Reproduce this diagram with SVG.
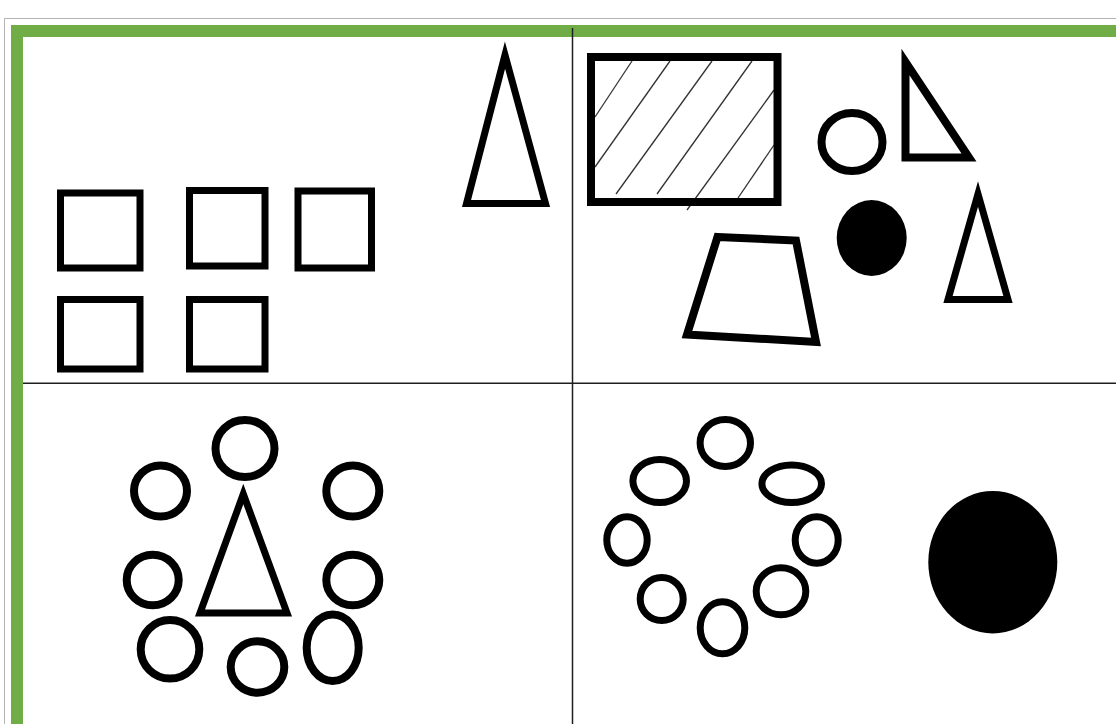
<svg xmlns="http://www.w3.org/2000/svg" width="1116" height="724" viewBox="0 0 1116 724">
<style>
.s{fill:none;stroke:#000;stroke-width:7;stroke-miterlimit:10}
.s8{fill:none;stroke:#000;stroke-width:8;stroke-miterlimit:10}
.f{fill:#000}
.h{stroke:#333;stroke-width:1.3;fill:none}
.div{stroke:#1e1e1e;stroke-width:1.5}
</style>
<rect width="1116" height="724" fill="#fff"/>
<g id="frame">
<path d="M4.5,724 V18.5 H1116" fill="none" stroke="#b4b4b4" stroke-width="1"/>
<rect x="11" y="25" width="1105" height="12" fill="#70ad47"/>
<rect x="11" y="25" width="12" height="699" fill="#70ad47"/>
<line class="div" x1="572.5" y1="28" x2="572.5" y2="724"/>
<line class="div" x1="23" y1="383.3" x2="1116" y2="383.3"/>
</g>
<g id="q1">
<rect class="s" x="60.5" y="193" width="79.5" height="75"/>
<rect class="s" x="189.5" y="190.5" width="75.5" height="75.5"/>
<rect class="s" x="298" y="191" width="73.5" height="77"/>
<rect class="s" x="60.5" y="299.5" width="79.5" height="69.5"/>
<rect class="s" x="189.5" y="299.5" width="75.5" height="69.5"/>
<polygon class="s" points="505,55 466.5,203.5 545.5,203.5"/>
</g>
<g id="q2">
<g class="h">
<line x1="632" y1="61" x2="595" y2="117"/>
<line x1="670" y1="61" x2="595" y2="167"/>
<line x1="712" y1="61" x2="616" y2="194"/>
<line x1="752" y1="61" x2="657" y2="194"/>
<line x1="774" y1="90" x2="687" y2="210"/>
<line x1="774" y1="145" x2="738" y2="198"/>
</g>
<rect class="s8" x="591" y="57" width="186.5" height="145"/>
<ellipse class="s8" cx="852" cy="142" rx="30.5" ry="29"/>
<polygon class="s8" points="905.5,62 905.5,157.5 969,157.5"/>
<ellipse class="f" cx="871.7" cy="238" rx="35" ry="38"/>
<polygon class="s" points="978,194 948,299.5 1008,299.5"/>
<polygon class="s8" points="717.5,237 796,240.5 816,342 687,334.5"/>
</g>
<g id="q3">
<ellipse class="s8" cx="245" cy="448.5" rx="29.5" ry="28.5"/>
<polygon class="s" points="243.3,494 200,613 287,613"/>
<ellipse class="s8" cx="160.5" cy="491" rx="26.5" ry="25.5"/>
<ellipse class="s8" cx="352.8" cy="491" rx="26.5" ry="25.5"/>
<ellipse class="s8" cx="152.7" cy="580" rx="26" ry="25.3"/>
<ellipse class="s8" cx="352.8" cy="580" rx="26.5" ry="25.3"/>
<ellipse class="s8" cx="170" cy="649.3" rx="29.3" ry="29.3"/>
<ellipse class="s8" cx="257.5" cy="667" rx="26.8" ry="25.7"/>
<ellipse class="s8" cx="332.7" cy="647.8" rx="26" ry="33.2"/>
</g>
<g id="q4">
<ellipse class="s" cx="725.3" cy="443" rx="25.2" ry="23.5"/>
<ellipse class="s" cx="659.7" cy="481" rx="26.8" ry="21.5"/>
<ellipse class="s" cx="791.7" cy="483.8" rx="29.8" ry="18.7"/>
<ellipse class="s" cx="627" cy="540" rx="20.2" ry="23.2"/>
<ellipse class="s" cx="816.7" cy="540" rx="21.5" ry="23.2"/>
<ellipse class="s" cx="661.7" cy="599" rx="21.5" ry="21.5"/>
<ellipse class="s" cx="722.5" cy="627.8" rx="22.3" ry="26"/>
<ellipse class="s" cx="781" cy="591.3" rx="24.8" ry="23.5"/>
<ellipse class="f" cx="992.8" cy="562.2" rx="64.5" ry="71.2"/>
</g>
</svg>
